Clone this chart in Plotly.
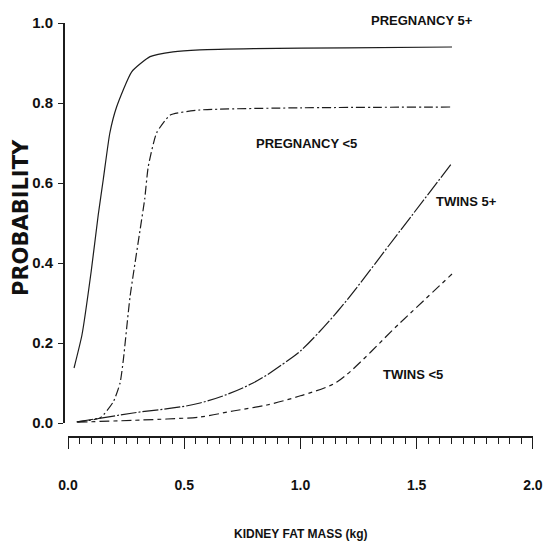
import plotly.graph_objects as go

# ---- data ----
preg5_x = [0.026, 0.06, 0.1, 0.13, 0.152, 0.18, 0.209, 0.274, 0.353, 0.452, 0.567, 0.8, 1.2, 1.652]
preg5_y = [0.1375, 0.22, 0.38, 0.52, 0.61, 0.725, 0.79, 0.878, 0.916, 0.928, 0.933, 0.936, 0.938, 0.94]

pregL_x = [0.037, 0.138, 0.195, 0.224, 0.238, 0.267, 0.31, 0.33, 0.345, 0.381, 0.44, 0.567, 1.0, 1.652]
pregL_y = [0.003, 0.0125, 0.053, 0.1, 0.1575, 0.316, 0.4825, 0.56, 0.64, 0.725, 0.77, 0.7825, 0.788, 0.79]

twin5_x = [0.04, 0.28, 0.568, 0.796, 0.955, 1.0, 1.161, 1.428, 1.652]
twin5_y = [0.003, 0.025, 0.05, 0.1, 0.16, 0.18, 0.28, 0.48, 0.65]

twinL_x = [0.04, 0.425, 0.568, 0.71, 0.856, 1.0, 1.157, 1.428, 1.652]
twinL_y = [0.002, 0.01, 0.015, 0.03, 0.045, 0.068, 0.1025, 0.25, 0.3725]

labels = ["PREGNANCY 5+", "PREGNANCY <5", "TWINS 5+", "TWINS <5"]
label_x = [1.523, 1.028, 1.716, 1.484]
label_y = [1.0, 0.70, 0.555, 0.122]
label_shift = [3, 0, 0, 0]

x_ticks = [0.0, 0.5, 1.0, 1.5, 2.0]
y_ticks = [0.0, 0.2, 0.4, 0.6, 0.8, 1.0]

NARROW = "Liberation Sans, Arial, sans-serif"
INK = "#1c1c1c"

W, H = 543, 547
L, R, T, B = 64, 10, 23, 110
pw, ph = W - L - R, H - T - B

fig = go.Figure()
series = [
    (preg5_x, preg5_y, "solid", 0.5),
    (pregL_x, pregL_y, "9px,3px,2px,3px", 0.5),
    (twin5_x, twin5_y, "16px,2px,2px,2px", 1.0),
    (twinL_x, twinL_y, "10px,4px,4px,4px", 0.8),
]
for xs, ys, dash, sm in series:
    fig.add_trace(go.Scatter(
        x=xs, y=ys, mode="lines",
        line=dict(color=INK, width=1.2, dash=dash, shape="spline", smoothing=sm),
        showlegend=False, hoverinfo="skip", cliponaxis=False,
    ))

for t, lx, ly, sh in zip(labels, label_x, label_y, label_shift):
    fig.add_annotation(x=lx, y=ly, xref="x", yref="y", text=t, showarrow=False, yshift=sh,
                       xanchor="center", yanchor="middle",
                       font=dict(family=NARROW, size=13, color="#111", weight="bold"))


def px_to_paper(px, py):
    return (px - L) / pw, (H - B - py) / ph


tx, ty = px_to_paper(301, 534)
fig.add_annotation(x=tx, y=ty, xref="paper", yref="paper",
                   text="KIDNEY FAT MASS (kg)", showarrow=False,
                   xanchor="center", yanchor="middle",
                   font=dict(family=NARROW, size=12, color="#111", weight="bold"))
tx, ty = px_to_paper(21, 218)
fig.add_annotation(x=tx, y=ty, xref="paper", yref="paper",
                   text="PROBABILITY", showarrow=False, textangle=-90,
                   xanchor="center", yanchor="middle",
                   font=dict(family="DejaVu Sans, sans-serif", size=21, color="#111", weight="bold"))

fig.update_layout(
    width=W, height=H, autosize=False,
    margin=dict(l=L, r=R, t=T, b=B, autoexpand=False),
    plot_bgcolor="white", paper_bgcolor="white",
    xaxis=dict(
        range=[0, 2.0005], domain=[4 / pw, 1], anchor="free", position=0, automargin=False,
        showgrid=False, zeroline=False, showline=True, linecolor=INK, linewidth=1.6,
        tickvals=x_ticks, ticktext=[f"{v:.1f}" for v in x_ticks],
        ticks="outside", ticklen=11, tickwidth=1.4, tickcolor=INK,
        minor=dict(dtick=0.05, tick0=0, ticks="outside", ticklen=6, tickwidth=1.2, tickcolor=INK),
        ticklabelstandoff=24, ticklabeloverflow="allow",
        tickfont=dict(family=NARROW, size=14, color="#111", weight="bold"),
    ),
    yaxis=dict(
        range=[0, 1], domain=[14 / ph, 1], anchor="free", position=0, automargin=False,
        showgrid=False, zeroline=False, showline=True, linecolor=INK, linewidth=1.8,
        tickvals=y_ticks, ticktext=[f"{v:.1f}" for v in y_ticks],
        ticks="outside", ticklen=5, tickwidth=1.4, tickcolor=INK,
        ticklabelstandoff=2, ticklabeloverflow="allow",
        tickfont=dict(family=NARROW, size=15, color="#111", weight="bold"),
    ),
)

fig.write_html(
    "out.html",
    config={"displayModeBar": False},
    post_script="document.body.style.margin='0';document.documentElement.style.overflow='hidden';",
)
